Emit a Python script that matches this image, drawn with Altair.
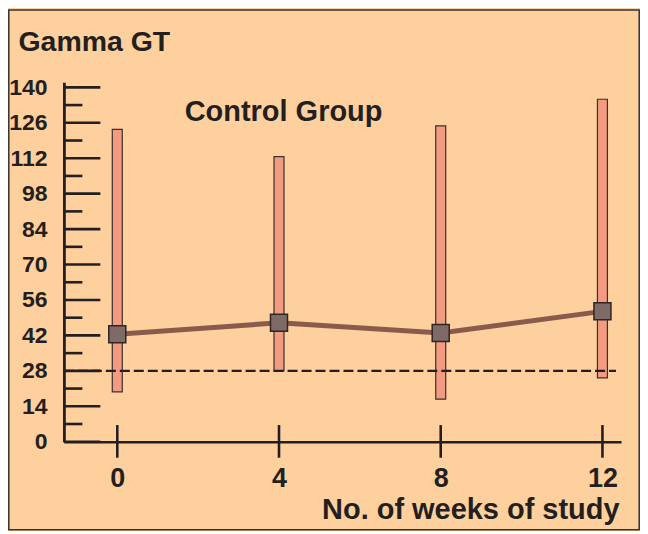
import altair as alt
import pandas as pd

# ---- data ----
weeks = [0, 4, 8, 12]
mean_ggt = [42.5, 47, 43, 51.5]
low_ggt = [19.7, 28, 16.8, 25.2]
high_ggt = [123.4, 112.6, 124.8, 135.3]
reference_level = 28
y_major_ticks = [0, 14, 28, 42, 56, 70, 84, 98, 112, 126, 140]
y_minor_ticks = [7, 21, 35, 49, 63, 77, 91, 105, 119, 133]
x_tick_labels = [0, 4, 8, 12]

df = pd.DataFrame({"week": weeks, "mean": mean_ggt, "low": low_ggt, "high": high_ggt})
major_df = pd.DataFrame({"v": y_major_ticks})
minor_df = pd.DataFrame({"v": y_minor_ticks})
xt_df = pd.DataFrame({"week": x_tick_labels})

BG = "#FDD09E"
DARK = "#231F20"
FONT = "Liberation Sans"
W, H = 558, 360

xscale = alt.Scale(domain=[-1.32, 12.46], nice=False, zero=False, padding=0)
yscale = alt.Scale(domain=[0, 142], nice=False, zero=True, padding=0)

x_axis = alt.Axis(
    values=x_tick_labels, format="d", ticks=False, grid=False,
    domain=True, domainColor=DARK, domainWidth=2.6,
    labelFont=FONT, labelFontWeight="bold", labelFontSize=27, labelColor=DARK,
    labelPadding=24, labelFlush=False,
    title="No. of weeks of study", titleFont=FONT, titleFontWeight="bold",
    titleFontSize=29, titleColor=DARK, titleX=556, titleY=77,
    titleAlign="right", titleBaseline="alphabetic",
)
y_axis = alt.Axis(
    values=y_major_ticks, format="d", ticks=False, grid=False,
    domain=True, domainColor=DARK, domainWidth=2.8,
    labelFont=FONT, labelFontWeight="bold", labelFontSize=23,
    labelColor=DARK, labelPadding=17, labelFlush=False,
    title="Gamma GT", titleFont=FONT, titleFontWeight="bold", titleFontSize=28.5,
    titleColor=DARK, titleAngle=0, titleX=-46, titleY=-31.7,
    titleAlign="left", titleBaseline="alphabetic",
)

X = lambda f: alt.X(f, scale=xscale, axis=x_axis)
Y = lambda f: alt.Y(f, scale=yscale, axis=y_axis)

bars = alt.Chart(df).mark_bar(
    size=10, fill="#F29B80", stroke="#3A3030", strokeWidth=1.2
).encode(x=X("week:Q"), y=Y("low:Q"), y2="high:Q")

line = alt.Chart(df).mark_line(color="#8A5A4C", strokeWidth=5).encode(
    x=X("week:Q"), y=Y("mean:Q")
)

squares = alt.Chart(df).mark_square(
    size=290, fill="#7E6A66", stroke="#2E2626", strokeWidth=1.5, opacity=1
).encode(x=X("week:Q"), y=Y("mean:Q"))

dashed = alt.Chart(pd.DataFrame({"v": [reference_level]})).mark_rule(
    color=DARK, strokeWidth=2.2, strokeDash=[10, 4]
).encode(y=Y("v:Q"), x=alt.value(0), x2=alt.value(553))

major_ticks = alt.Chart(major_df).mark_rule(color=DARK, strokeWidth=2.6).encode(
    y=Y("v:Q"), x=alt.value(0), x2=alt.value(36.5)
)
minor_ticks = alt.Chart(minor_df).mark_rule(color=DARK, strokeWidth=2.6).encode(
    y=Y("v:Q"), x=alt.value(0), x2=alt.value(18.5)
)
x_ticks = alt.Chart(xt_df).mark_rule(color=DARK, strokeWidth=2.6).encode(
    x=X("week:Q"), y=alt.value(H - 16.7), y2=alt.value(H + 16)
)

label = alt.Chart(pd.DataFrame({"t": ["Control Group"]})).mark_text(
    font=FONT, fontWeight="bold", fontSize=29, color=DARK,
    align="left", baseline="alphabetic",
).encode(text="t:N", x=alt.value(121), y=alt.value(38.5))

border = alt.Chart(pd.DataFrame({"a": [0]})).mark_rect(
    fill=None, fillOpacity=0, stroke="#333333", strokeWidth=1.5
).encode(
    x=alt.value(-55.2), x2=alt.value(W + 18.2),
    y=alt.value(-72.5), y2=alt.value(H + 88.2),
)

chart = alt.layer(
    bars, line, squares, dashed, major_ticks, minor_ticks, x_ticks, label, border
).properties(
    width=W, height=H,
    autosize=alt.AutoSizeParams(type="none"),
    padding={"left": 56, "top": 74, "right": 19, "bottom": 89},
    background=BG,
).configure_view(stroke=None)

chart.save("out.html", embed_options={"renderer": "svg", "actions": False})
